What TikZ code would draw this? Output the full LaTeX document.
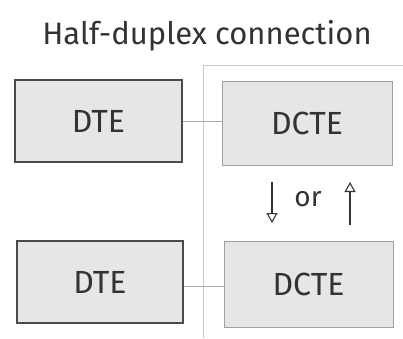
\documentclass[tikz,border=0pt]{standalone}
\usepackage{fontspec}
\setmainfont{Fira Sans}
\usetikzlibrary{arrows.meta}
\definecolor{boxfill}{HTML}{E6E6E6}
\definecolor{darkedge}{HTML}{4A4A4A}
\definecolor{lightedge}{HTML}{A0A0A0}
\definecolor{wire}{HTML}{AAAAAA}
\definecolor{divider}{HTML}{C8C8C8}
\definecolor{ink}{HTML}{333333}
\tikzset{
  dtebox/.style={draw=darkedge, line width=1.6pt, fill=boxfill, text=ink,
    font=\fontsize{32}{36}\selectfont, inner sep=0pt},
  dctebox/.style={draw=lightedge, line width=1pt, fill=boxfill, text=ink,
    font=\fontsize{32}{36}\selectfont, inner sep=0pt},
  wireline/.style={draw=wire, line width=0.9pt},
  dirarrow/.style={draw=ink, line width=1.1pt, -{Triangle[open,length=10pt,width=11pt]}}
}
\begin{document}
\begin{tikzpicture}[x=1pt,y=-1pt]
  \useasboundingbox (0,0) rectangle (403,338);
  \fill[white] (0,0) rectangle (403,338);

  % title
  \node[text=ink, font=\fontsize{31}{34}\selectfont] (title) at (207,36) {Half-duplex connection};

  % divider line framing the DCTE side
  \coordinate (divbot) at (203,338);
  \coordinate (divtop) at (203,65);
  \coordinate (divend) at (403,65);
  \draw[draw=divider, line width=0.9pt] (divbot) -- (divtop) -- (divend);

  % boxes
  \node[dtebox, minimum width=167pt, minimum height=82pt] (dte1) at (98.5,121) {DTE};
  \node[dctebox, minimum width=170pt, minimum height=84pt] (dcte1) at (307,123) {DCTE};
  \node[dtebox, minimum width=166pt, minimum height=82pt] (dte2) at (100,282) {DTE};
  \node[dctebox, minimum width=169pt, minimum height=86pt] (dcte2) at (308.5,284) {DCTE};

  % links
  \draw[wireline] (dte1.east) -- (dte1.east -| dcte1.west);
  \draw[wireline] ([yshift=-4pt]dte2.east) -- ([yshift=-4pt]dte2.east -| dcte2.west);

  % direction indicator
  \coordinate (dtop) at (272,182);
  \coordinate (dbot) at (272,223);
  \coordinate (ubot) at (350,225);
  \coordinate (utop) at (350,182);
  \draw[dirarrow] (dtop) -- (dbot);
  \draw[dirarrow] (ubot) -- (utop);
  \node[text=ink, font=\fontsize{28}{32}\selectfont] (ortext) at (308,199) {or};
\end{tikzpicture}
\end{document}
